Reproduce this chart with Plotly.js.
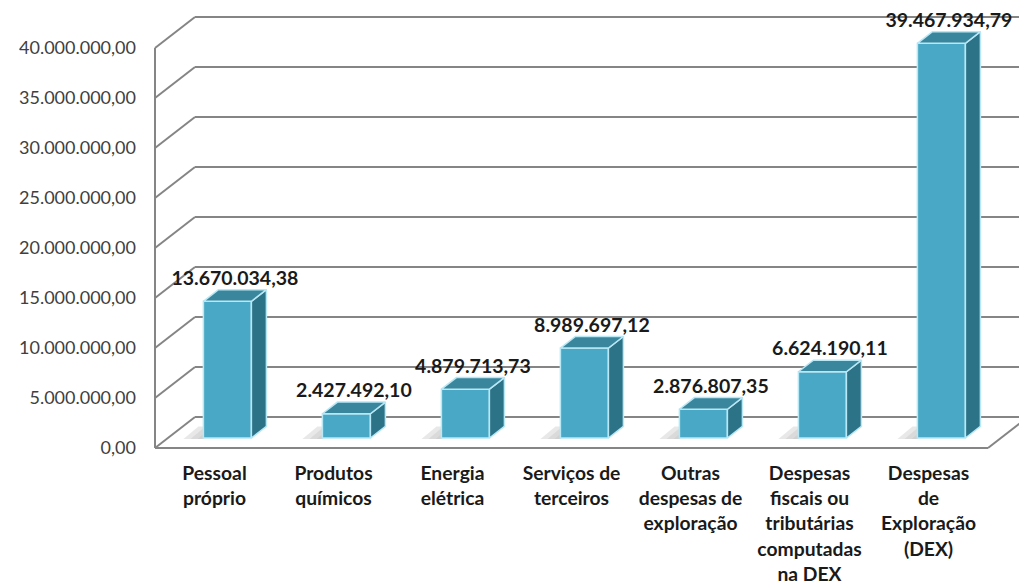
<!DOCTYPE html>
<html>
<head>
<meta charset="utf-8">
<script src="https://cdn.plot.ly/plotly-3.0.1.min.js"></script>
<style>html,body{margin:0;padding:0;background:#fff;}#chart{width:1019px;height:586px;}</style>
</head>
<body>
<div id="chart"></div>
<script>
// ---- data ----
const categories = [
  "Pessoal<br>próprio",
  "Produtos<br>químicos",
  "Energia<br>elétrica",
  "Serviços de<br>terceiros",
  "Outras<br>despesas de<br>exploração",
  "Despesas<br>fiscais ou<br>tributárias<br>computadas<br>na DEX",
  "Despesas<br>de<br>Exploração<br>(DEX)"
];
const values = [13670034.38, 2427492.10, 4879713.73, 8989697.12, 2876807.35, 6624190.11, 39467934.79];
const yTicks = [0, 5000000, 10000000, 15000000, 20000000, 25000000, 30000000, 35000000, 40000000];

// ---- 3D oblique geometry (in axis units) ----
const PX = 119;                 // pixels per category
const DX = 40 / PX;             // wall depth, x
const DY = 3.1e6;               // wall depth, y
const BX = DX * 10 / 31;        // bar front offset
const BY = DY * 10 / 31;
const BW = 48 / PX;             // bar width
const DDX = DX * 0.375;         // bar depth
const DDY = DY * 0.375;
const N = categories.length;
const idx = categories.map((_, i) => i);

const gridCol = '#858585';
const shapes = [];
function line(x0, y0, x1, y1) {
  shapes.push({type: 'line', xref: 'x', yref: 'y', x0, y0, x1, y1, layer: 'below',
    line: {color: gridCol, width: 2}});
}
yTicks.forEach(t => {
  line(-0.5, t, -0.5 + DX, t + DY);
  line(-0.5 + DX, t + DY, N - 0.5 + DX, t + DY);
});
line(-0.5, 0, -0.5, yTicks[yTicks.length - 1]);
line(-0.5, 0, N - 0.5, 0);
line(N - 0.5, 0, N - 0.5 + DX, DY);

// soft floor shadows to the left of each bar base
idx.forEach(i => {
  const xl = i + BX - BW / 2;
  const s = 20 / PX;
  [[0.09, 0], [0.06, 0.35], [0.04, 0.7]].forEach(([op, k]) => {
    const x0 = xl - s * (1 - k);
    shapes.push({type: 'path', xref: 'x', yref: 'y', layer: 'below',
      fillcolor: 'rgba(0,0,0,' + op + ')', line: {width: 0},
      path: 'M' + x0 + ',' + (BY - 0.1e6) + ' L' + xl + ',' + (BY - 0.1e6) +
            ' L' + (xl + DDX) + ',' + (BY + DDY) + ' L' + (x0 + DDX) + ',' + (BY + DDY) + ' Z'});
  });
});

// side & top faces
const sideX = [], sideY = [], topX = [], topY = [];
idx.forEach(i => {
  const v = values[i];
  const xl = i + BX - BW / 2, xr = i + BX + BW / 2;
  sideX.push(xr, xr + DDX, xr + DDX, xr, xr, null);
  sideY.push(BY, BY + DDY, BY + v + DDY, BY + v, BY, null);
  topX.push(xl, xr, xr + DDX, xl + DDX, xl, null);
  topY.push(BY + v, BY + v, BY + v + DDY, BY + v + DDY, BY + v, null);
});

const edge = {color: '#b8e7f6', width: 1.5};
const traces = [
  {type: 'bar', x: idx.map(i => i + BX), y: values, base: BY, width: BW,
   marker: {color: '#49a8c5', line: edge}, hoverinfo: 'skip', showlegend: false},
  {type: 'scatter', mode: 'lines', x: sideX, y: sideY, fill: 'toself', fillcolor: '#2d7387',
   line: edge, hoverinfo: 'skip', showlegend: false},
  {type: 'scatter', mode: 'lines', x: topX, y: topY, fill: 'toself', fillcolor: '#3a869c',
   line: edge, hoverinfo: 'skip', showlegend: false},
  {type: 'scatter', mode: 'text', x: idx.map(i => i + BX + DDX / 2), y: values.map(v => BY + v + DDY),
   text: values, texttemplate: '%{text:,.2f}', textposition: 'top center', cliponaxis: false,
   textfont: {family: 'Lato', size: 19.5, weight: 'bold', color: '#1a1a1a'},
   hoverinfo: 'skip', showlegend: false}
];

const layout = {
  width: 1019, height: 586,
  margin: {l: 145, r: 0, t: 10, b: 128},
  paper_bgcolor: '#ffffff', plot_bgcolor: '#ffffff',
  separators: ',.',
  showlegend: false,
  xaxis: {
    range: [-0.5 - 10 / PX, -0.5 - 10 / PX + 874 / PX],
    tickvals: idx, ticktext: categories, ticks: '',
    showgrid: false, zeroline: false, showline: false,
    ticklabelstandoff: 2,
    tickfont: {family: 'Lato', size: 19.3, weight: 'bold', color: '#1a1a1a'}
  },
  yaxis: {
    range: [-1e6, 43.8e6],
    tickvals: yTicks, tickformat: ',.2f', ticks: '',
    showgrid: false, zeroline: false, showline: false,
    ticklabelstandoff: 8,
    tickfont: {family: 'Lato', size: 18, color: '#404040'}
  },
  shapes: shapes
};

Plotly.newPlot('chart', traces, layout, {staticPlot: true, displayModeBar: false});
</script>
</body>
</html>
